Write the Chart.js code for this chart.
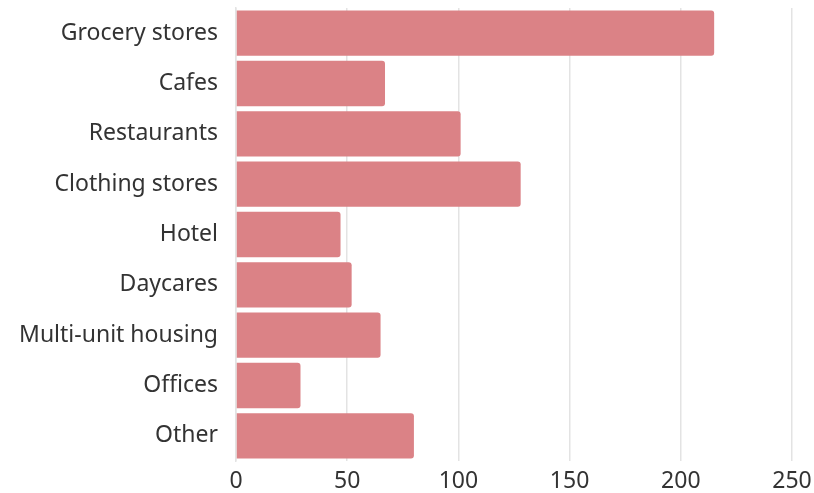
<!DOCTYPE html>
<html>
<head>
<meta charset="utf-8">
<script src="https://cdn.jsdelivr.net/npm/chart.js@4"></script>
<style>
html,body{margin:0;padding:0;background:#fff;}
#wrap{width:814px;height:493px;}
</style>
</head>
<body>
<div id="wrap"><canvas id="chartLocales"></canvas></div>
<script>
// locales por tipo
const categorias=["Grocery stores","Cafes","Restaurants","Clothing stores","Hotel","Daycares","Multi-unit housing","Offices","Other"];
const valores=[215,67,101,128,47,52,65,29,80];
const ticksX=[0,50,100,150,200,250];

const rosa="#db8286";
const gris="#e3e3e3";
const texto="#333333";

Chart.defaults.font.family="Noto Sans";
Chart.defaults.color=texto;

new Chart(document.getElementById("chartLocales"),{

type:"bar",

data:{
labels:categorias,
datasets:[{
data:valores,
backgroundColor:rosa,
borderRadius:3,
barPercentage:0.9,
categoryPercentage:1
}]
},

options:{
indexAxis:"y",
responsive:true,
maintainAspectRatio:false,
animation:false,
layout:{padding:{top:8,right:22,bottom:0,left:0}},
plugins:{
legend:{display:false},
tooltip:{enabled:false}
},
scales:{
x:{
min:0,
max:250,
afterBuildTicks:(s)=>{s.ticks=ticksX.map(v=>({value:v}));},
afterFit:(s)=>{s.height=32;s.paddingLeft=0;s.paddingRight=0;},
grid:{color:gris,drawTicks:false,lineWidth:1.5},
border:{display:false},
ticks:{font:{size:23},padding:7,color:texto}
},
y:{
grid:{display:false,drawTicks:false},
border:{display:true,color:gris,width:1.5},
afterFit:(s)=>{s.width=236;s.paddingTop=0;s.paddingBottom=0;},
ticks:{font:{size:23},padding:18,color:texto}
}
}
}

});
</script>
</body>
</html>
